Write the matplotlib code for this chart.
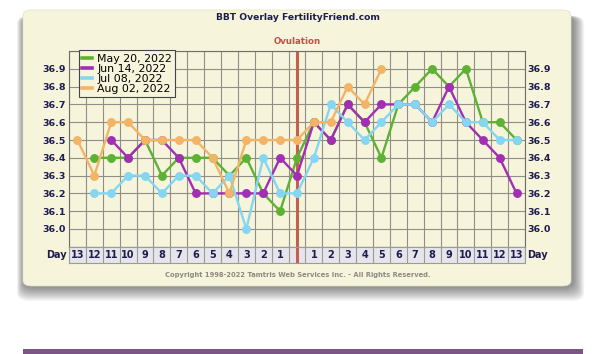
"""BBT overlay: четыре цикла, выровненные по дню овуляции."""
import matplotlib
matplotlib.use("Agg")
import matplotlib.pyplot as plt
import numpy as np
from matplotlib.patches import FancyBboxPatch, Rectangle

nan = np.nan

# подписи дней: 13..1 до овуляции, пустая колонка овуляции, 1..13 после
day_labels = [str(d) for d in range(13, 0, -1)] + [""] + [str(d) for d in range(1, 14)]
ov_index = 13
y_ticks = [36.0, 36.1, 36.2, 36.3, 36.4, 36.5, 36.6, 36.7, 36.8, 36.9]

cycle_names = ["May 20, 2022", "Jun 14, 2022", "Jul 08, 2022", "Aug 02, 2022"]
may20 = [nan, 36.4, 36.4, 36.4, 36.5, 36.3, 36.4, 36.4, 36.4, 36.3, 36.4, 36.2, 36.1,
         36.4, 36.6, 36.5, 36.7, 36.6, 36.4, 36.7, 36.8, 36.9, 36.8, 36.9, 36.6, 36.6, 36.5]
jun14 = [nan, nan, 36.5, 36.4, 36.5, 36.5, 36.4, 36.2, 36.2, 36.2, 36.2, 36.2, 36.4,
         36.3, 36.6, 36.5, 36.7, 36.6, 36.7, 36.7, 36.7, 36.6, 36.8, 36.6, 36.5, 36.4, 36.2]
jul08 = [nan, 36.2, 36.2, 36.3, 36.3, 36.2, 36.3, 36.3, 36.2, 36.3, 36.0, 36.4, 36.2,
         36.2, 36.4, 36.7, 36.6, 36.5, 36.6, 36.7, 36.7, 36.6, 36.7, 36.6, 36.6, 36.5, 36.5]
aug02 = [36.5, 36.3, 36.6, 36.6, 36.5, 36.5, 36.5, 36.5, 36.4, 36.2, 36.5, 36.5, 36.5,
         36.5, 36.6, 36.6, 36.8, 36.7, 36.9, nan, nan, nan, nan, nan, nan, nan, nan]

COLORS = ["#5db234", "#a22fb3", "#84d6f2", "#f2b466"]
NAVY = "#1c1c4e"
CREAM = "#f7f4dc"
W, H = 600, 354


def fx(px):  # пиксели -> доли фигуры
    return px / W


def fy(py):
    return 1 - py / H


fig = plt.figure(figsize=(6, 3.54), dpi=100)
fig.patch.set_facecolor("white")

# размытая тень панели: слои, расползающиеся вниз и вправо
px0, py0, px1, py1 = 23, 10, 571, 286
for d in range(14, 0, -1):
    l, r = px0 + 1 - 0.5 * d, px1 + 2 + 0.8 * d
    t, b = py0 + 6, py1 + 1 + d
    fig.patches.append(FancyBboxPatch(
        (fx(l), fy(b)), fx(r - l), (b - t) / H,
        boxstyle="round,pad=0,rounding_size=0.02", transform=fig.transFigure,
        facecolor="black", edgecolor="none", alpha=0.035, zorder=0))
fig.patches.append(FancyBboxPatch(
    (fx(px0), fy(py1)), fx(px1 - px0), (py1 - py0) / H,
    boxstyle="round,pad=0,rounding_size=0.015", transform=fig.transFigure,
    facecolor=CREAM, edgecolor="#e4e1c8", linewidth=0.5, zorder=1))
fig.patches.append(Rectangle((fx(23), 0), fx(560), 5 / H, transform=fig.transFigure,
                             facecolor="#7a5585", edgecolor="none", zorder=1))

fig.text(fx(298), fy(17), "BBT Overlay FertilityFriend.com", ha="center", va="center",
         fontsize=6.6, fontweight="bold", color=NAVY)
fig.text(fx(297), fy(42), "Ovulation", ha="center", va="center",
         fontsize=6.2, fontweight="bold", color="#c0504a")
fig.text(fx(298), fy(275),
         "Copyright 1998-2022 Tamtris Web Services Inc. - All Rights Reserved.",
         ha="center", va="center", fontsize=4.9, fontweight="bold", color="#8a8a80")

# основная область графика
left, right, top, bottom = 69, 525, 51, 246.8
ax = fig.add_axes([fx(left), fy(bottom), fx(right - left), (bottom - top) / H])
ax.set_facecolor(CREAM)
ax.set_zorder(2)
n = len(day_labels)
x = np.arange(n)
ax.set_xlim(-0.5, n - 0.5)
ax.set_ylim(35.9, 37.0)
for k in range(n + 1):
    ax.axvline(k - 0.5, color="#8f8f88", lw=0.8, zorder=1)
for v in np.arange(35.9, 37.01, 0.1):
    ax.axhline(v, color="#8f8f88", lw=0.8, zorder=1)
ax.axvline(ov_index, color="#c4604f", lw=2.2, zorder=2)

for vals, name, c in zip([may20, jun14, jul08, aug02], cycle_names, COLORS):
    ax.plot(x, vals, "-o", color=c, lw=1.7, markersize=5.4, label=name, zorder=3)

ax.set_xticks([])
ax.set_yticks(y_ticks)
ax.set_yticklabels([f"{v:.1f}" for v in y_ticks])
ax.tick_params(axis="y", length=0, pad=2, labelsize=6.8, labelcolor=NAVY,
               left=True, right=True, labelleft=True, labelright=True)
for lab in ax.get_yticklabels():
    lab.set_fontweight("bold")
for s in ax.spines.values():
    s.set_color("#6e6e68")
    s.set_linewidth(0.8)

leg = ax.legend(loc="upper left", bbox_to_anchor=(0.022, 1.003), fontsize=7.9,
                handlelength=0.9, handletextpad=0.45, borderpad=0.3, labelspacing=0.0,
                fancybox=False, framealpha=1, borderaxespad=0)
leg.get_frame().set_facecolor(CREAM)
leg.get_frame().set_edgecolor("#444450")
leg.get_frame().set_linewidth(0.8)
for h in leg.legend_handles:
    h.set_marker("")
    h.set_linewidth(2.6)

# строка с номерами дней
dax = fig.add_axes([fx(left), fy(263), fx(right - left), 16 / H])
dax.set_zorder(2)
dax.set_xlim(-0.5, n - 0.5)
dax.set_ylim(0, 1)
dax.set_facecolor("#e6e5ea")
for k in range(n + 1):
    dax.axvline(k - 0.5, color="#9a9aa0", lw=0.8)
dax.axvline(ov_index, color="#c4604f", lw=2.2)
for i, lab in enumerate(day_labels):
    dax.text(i, 0.5, lab, ha="center", va="center", fontsize=7, fontweight="bold",
             color=NAVY)
dax.set_xticks([])
dax.set_yticks([])
for s in dax.spines.values():
    s.set_color("#9a9aa0")
    s.set_linewidth(0.8)
fig.text(fx(67), fy(255), "Day", ha="right", va="center", fontsize=7,
         fontweight="bold", color=NAVY)
fig.text(fx(527), fy(255), "Day", ha="left", va="center", fontsize=7,
         fontweight="bold", color=NAVY)

fig.savefig("out.png", dpi=100)
